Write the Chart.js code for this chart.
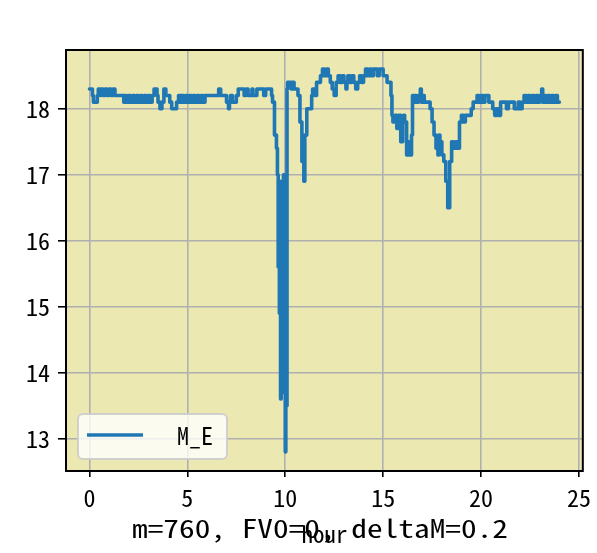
<!DOCTYPE html>
<html>
<head>
<meta charset="utf-8">
<script src="https://cdn.jsdelivr.net/npm/chart.js@4.4.1/dist/chart.umd.min.js"></script>
<style>
html,body{margin:0;padding:0;background:#fff;}
#wrap{width:597px;height:553px;position:relative;}
</style>
</head>
<body>
<div id="wrap"><canvas id="c" width="597" height="553"></canvas></div>
<script>
const seriesLabel = "M_E";
const xTitle = "hour";
const footText = "m=760, FV0=0, deltaM=0.2";
const xTickValues = [0, 5, 10, 15, 20, 25];
const yTickValues = [13, 14, 15, 16, 17, 18];

const hours = [
 0.00,0.15,0.20,0.30,0.40,0.45,0.55,0.60,0.70,0.80,0.90,1.00,1.10,1.20,1.30,1.40,1.60,1.75,1.80,1.90,
 2.00,2.10,2.20,2.30,2.40,2.50,2.60,2.70,2.80,2.90,3.00,3.10,3.20,3.30,3.45,3.50,3.60,3.70,3.80,3.90,
 4.00,4.10,4.20,4.30,4.45,4.55,4.65,4.70,4.80,4.90,5.00,5.10,5.20,5.30,5.40,5.50,5.60,5.70,5.80,5.90,
 6.00,6.30,6.60,6.70,6.80,7.00,7.10,7.15,7.20,7.30,7.40,7.50,7.60,7.70,7.90,8.00,8.10,8.30,8.35,8.55,
 8.60,8.90,9.00,9.10,9.30,9.35,9.45,9.55,9.60,9.64,9.67,9.70,9.73,9.76,9.79,9.82,9.85,9.88,9.91,9.94,
 9.97,10.00,10.03,10.06,10.09,10.12,10.15,
 10.30,10.35,10.45,10.55,10.65,10.75,10.85,10.95,11.00,11.10,11.20,11.35,11.40,11.50,11.60,11.70,11.80,11.90,12.00,12.10,
 12.20,12.30,12.40,12.50,12.60,12.70,12.80,12.90,13.00,13.10,13.15,13.20,13.30,13.40,13.50,13.60,13.70,13.80,13.90,14.00,
 14.10,14.20,14.30,14.40,14.50,14.60,14.70,14.80,14.90,15.00,15.10,15.20,15.30,15.40,15.45,15.50,15.60,15.70,15.80,15.90,
 16.00,16.05,16.10,16.20,16.30,16.40,16.45,16.50,16.55,16.60,16.70,16.80,16.90,16.95,17.00,17.10,17.20,17.30,17.40,17.50,
 17.60,17.70,17.80,17.85,17.90,18.00,18.10,18.20,18.30,18.40,18.50,18.60,18.70,18.80,18.90,19.00,19.10,19.20,19.40,19.50,
 19.60,19.70,19.80,19.90,20.00,20.10,20.20,20.30,20.40,20.50,20.60,20.70,20.80,20.90,21.00,21.10,21.30,21.40,21.50,21.70,
 21.80,21.90,22.00,22.10,22.20,22.30,22.40,22.50,22.60,22.70,22.80,22.90,23.00,23.10,23.15,23.20,23.30,23.40,23.50,23.60,
 23.70,23.80,23.90,24.00
];
const mE = [
 18.3,18.3,18.2,18.1,18.1,18.2,18.3,18.2,18.3,18.2,18.3,18.2,18.3,18.2,18.3,18.2,18.2,18.2,18.1,18.2,
 18.1,18.2,18.1,18.2,18.1,18.2,18.1,18.2,18.1,18.2,18.1,18.2,18.1,18.2,18.3,18.2,18.1,18.0,18.1,18.3,
 18.2,18.2,18.1,18.0,18.0,18.1,18.2,18.1,18.2,18.1,18.2,18.1,18.2,18.1,18.2,18.1,18.2,18.1,18.2,18.1,
 18.2,18.2,18.2,18.3,18.2,18.2,18.1,18.0,18.1,18.2,18.1,18.1,18.2,18.3,18.3,18.2,18.3,18.2,18.3,18.2,
 18.3,18.3,18.2,18.3,18.3,18.2,18.1,17.6,17.4,17.0,15.6,16.9,14.9,16.8,13.6,16.9,14.0,16.8,13.7,17.0,
 13.9,16.6,12.8,15.5,13.5,18.3,18.4,
 18.4,18.3,18.4,18.3,18.3,18.2,17.8,17.2,16.9,17.6,18.0,18.0,18.2,18.3,18.2,18.4,18.4,18.5,18.6,18.5,
 18.6,18.5,18.4,18.3,18.2,18.4,18.5,18.4,18.5,18.4,18.3,18.4,18.5,18.4,18.5,18.4,18.3,18.4,18.5,18.4,
 18.5,18.6,18.5,18.6,18.5,18.6,18.6,18.5,18.6,18.6,18.5,18.5,18.4,18.4,18.2,17.9,17.8,17.9,17.7,17.9,
 17.5,17.8,17.9,17.8,17.3,17.5,17.3,17.6,18.2,18.1,18.2,18.1,18.2,18.3,18.1,18.2,18.1,18.1,18.1,18.0,
 17.8,17.6,17.4,17.3,17.6,17.5,17.3,17.2,16.9,16.5,17.2,17.5,17.4,17.5,17.4,17.8,17.9,17.8,17.9,17.9,
 18.0,18.1,18.1,18.2,18.1,18.2,18.1,18.2,18.2,18.1,18.1,18.0,17.9,18.0,17.9,18.1,18.1,18.0,18.1,18.1,
 18.0,18.0,18.1,18.0,18.1,18.2,18.1,18.2,18.1,18.2,18.1,18.2,18.1,18.2,18.3,18.1,18.2,18.1,18.2,18.1,
 18.2,18.1,18.2,18.1
];

const FONT = "'Noto Sans Mono CJK SC', 'Noto Sans CJK SC', 'DejaVu Sans', sans-serif";

const bgPlugin = {
  id: 'bg',
  beforeDraw(chart) {
    const {ctx, chartArea: a} = chart;
    ctx.save();
    ctx.fillStyle = '#ebe8b2';
    ctx.fillRect(a.left, a.top, a.right - a.left, a.bottom - a.top);
    ctx.restore();
  },
  afterDraw(chart) {
    const {ctx, chartArea: a} = chart;
    ctx.save();
    ctx.strokeStyle = '#000';
    ctx.lineWidth = 2;
    ctx.strokeRect(a.left, a.top, a.right - a.left, a.bottom - a.top);
    // legend
    const ds = chart.data.datasets[0];
    const lx = a.left + 12, ly = a.bottom - 57, lw = 149, lh = 45, r = 5;
    ctx.beginPath();
    ctx.moveTo(lx + r, ly);
    ctx.arcTo(lx + lw, ly, lx + lw, ly + lh, r);
    ctx.arcTo(lx + lw, ly + lh, lx, ly + lh, r);
    ctx.arcTo(lx, ly + lh, lx, ly, r);
    ctx.arcTo(lx, ly, lx + lw, ly, r);
    ctx.closePath();
    ctx.fillStyle = 'rgba(255,255,255,0.8)';
    ctx.fill();
    ctx.strokeStyle = 'rgba(204,204,204,0.9)';
    ctx.lineWidth = 2;
    ctx.stroke();
    ctx.beginPath();
    ctx.moveTo(lx + 9, ly + 21);
    ctx.lineTo(lx + 65, ly + 21);
    ctx.strokeStyle = ds.borderColor;
    ctx.lineWidth = 3.4;
    ctx.stroke();
    ctx.fillStyle = '#000';
    ctx.font = '24px ' + FONT;
    ctx.textBaseline = 'middle';
    ctx.textAlign = 'left';
    ctx.fillText(ds.label, lx + 99, ly + 22);
    // footer text
    ctx.font = '25px ' + FONT;
    ctx.textAlign = 'center';
    ctx.textBaseline = 'alphabetic';
    const w = ctx.measureText(footText).width;
    const sx = 376 / w;
    ctx.translate(320, 538);
    ctx.scale(sx, 1);
    ctx.fillText(footText, 0, 0);
    ctx.restore();
  }
};

new Chart(document.getElementById('c'), {
  type: 'line',
  data: {
    datasets: [{
      label: seriesLabel,
      data: hours.map((h, i) => ({x: h, y: mE[i]})),
      borderColor: '#1f77b4',
      borderWidth: 3.6,
      pointRadius: 0,
      stepped: 'after',
      fill: false,
      borderJoinStyle: 'round',
      borderCapStyle: 'round'
    }]
  },
  options: {
    responsive: false,
    animation: false,
    devicePixelRatio: 1,
    layout: {padding: {top: 50, right: 14, left: 0, bottom: 0}},
    plugins: {legend: {display: false}, tooltip: {enabled: false}},
    scales: {
      x: {
        type: 'linear',
        min: -1.2, max: 25.2,
        afterBuildTicks: s => { s.ticks = xTickValues.map(v => ({value: v})); },
        afterFit: s => { s.height = 82; },
        grid: {color: '#b0b0b0', lineWidth: 1.6, drawTicks: true, tickLength: 6, tickColor: '#000', tickWidth: 1.6},
        border: {display: false},
        ticks: {color: '#000', font: {family: FONT, size: 24}, padding: 6, maxRotation: 0, autoSkip: false},
        title: {display: true, text: xTitle, color: '#000', font: {family: FONT, size: 23}, padding: {top: 0, bottom: 5}}
      },
      y: {
        type: 'linear',
        min: 12.51, max: 18.89,
        afterBuildTicks: s => { s.ticks = yTickValues.map(v => ({value: v})); },
        afterFit: s => { s.width = 66; },
        grid: {color: '#b0b0b0', lineWidth: 1.6, drawTicks: true, tickLength: 8, tickColor: '#000', tickWidth: 1.6},
        border: {display: false},
        ticks: {color: '#000', font: {family: FONT, size: 24}, padding: 8}
      }
    }
  },
  plugins: [bgPlugin]
});
</script>
</body>
</html>
